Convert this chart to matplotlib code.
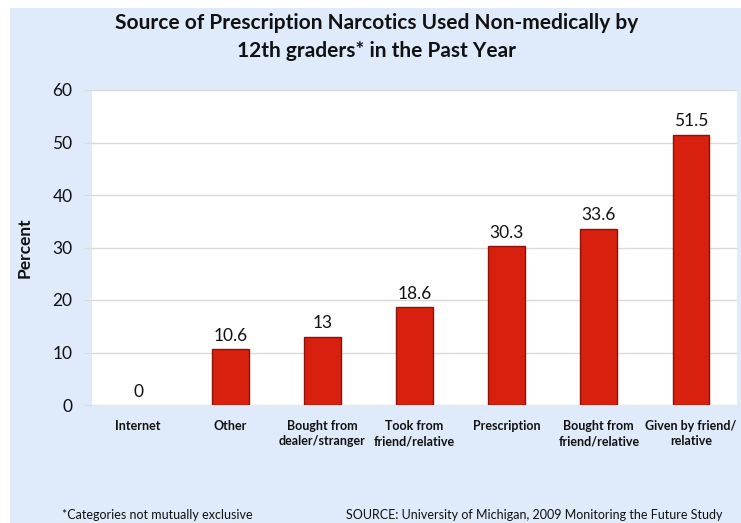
import matplotlib
matplotlib.use("Agg")
import matplotlib.pyplot as plt
from matplotlib.patches import Rectangle

plt.rcParams['font.family'] = ['Lato', 'DejaVu Sans']

categories = ["Internet", "Other", "Bought from\ndealer/stranger", "Took from\nfriend/relative",
              "Prescription", "Bought from\nfriend/relative", "Given by friend/\nrelative"]
values = [0, 10.6, 13, 18.6, 30.3, 33.6, 51.5]
value_labels = ["0", "10.6", "13", "18.6", "30.3", "33.6", "51.5"]
yticks = [0, 10, 20, 30, 40, 50, 60]

fig = plt.figure(figsize=(7.41, 5.23), dpi=100)
fig.patch.set_facecolor('white')
bg = Rectangle((10/741, 0), 1 - 10/741, 1 - 8/523, transform=fig.transFigure,
               facecolor='#dfeafb', edgecolor='none', zorder=-10)
fig.patches.append(bg)

ax = fig.add_axes([92/741, (523-405)/523, (737-92)/741, (405-90)/523])
ax.set_facecolor('white')
x = list(range(len(categories)))
lws = [1.0 if v > 0 else 0 for v in values]
ax.bar(x, values, width=0.4, color='#d8200e', edgecolor='#8a1208', linewidth=lws, zorder=3)
for xi, v, lab in zip(x, values, value_labels):
    ax.text(xi, v + 1.0, lab, ha='center', va='bottom', fontsize=12.5, color='#111111')

ax.set_xlim(-0.5, len(categories) - 0.5)
ax.set_ylim(0, 60)
ax.set_yticks(yticks)
ax.set_yticklabels([str(t) for t in yticks], fontsize=12.5, color='#111111')
ax.grid(axis='y', color='#d9d9d9', linewidth=1.0, zorder=0)
for s in ax.spines.values():
    s.set_visible(False)
ax.tick_params(axis='y', length=6, color='#d9d9d9', pad=8)
ax.set_xticks(x)
ax.set_xticklabels(categories, fontsize=9, fontweight='bold', color='#111111', linespacing=1.3)
ax.tick_params(axis='x', length=0, pad=11)
ax.set_ylabel("Percent", fontsize=12.5, fontweight='bold', color='#111111', labelpad=14)

fig.text(0.508, 1 - 37/523, "Source of Prescription Narcotics Used Non-medically by\n12th graders* in the Past Year",
         ha='center', va='center', fontsize=15, fontweight='bold', color='#111111', linespacing=1.5)
fig.text(62/741, 1 - 515/523, "*Categories not mutually exclusive", ha='left', va='center', fontsize=9, color='#111111')
fig.text(722/741, 1 - 515/523, "SOURCE: University of Michigan, 2009 Monitoring the Future Study",
         ha='right', va='center', fontsize=9, color='#111111')

fig.savefig("out.png", dpi=100)
